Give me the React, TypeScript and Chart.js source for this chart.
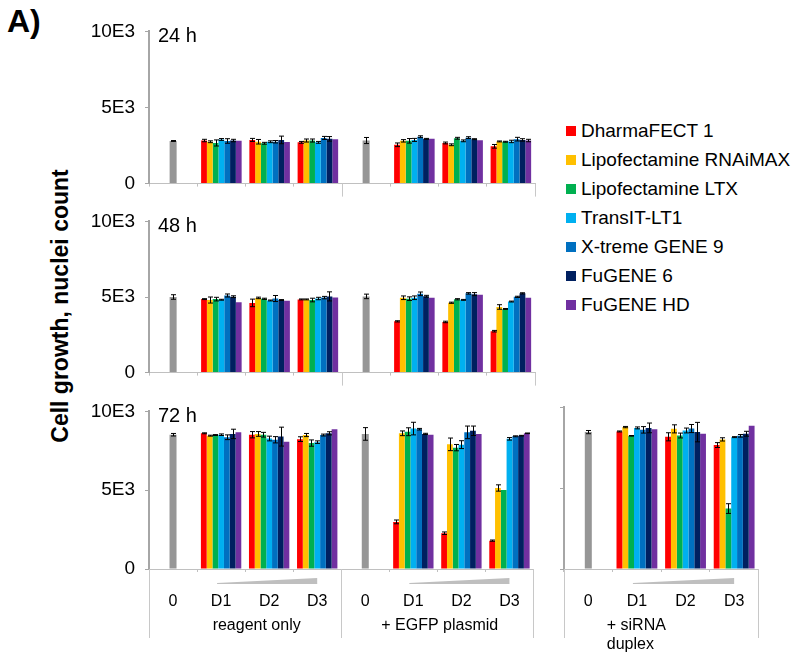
import React, { useEffect, useRef } from "react";
import { Chart, registerables } from "chart.js";

Chart.register(...registerables);

const FONT = "'Liberation Sans', Arial, Helvetica, sans-serif";

const reagents = [
  "DharmaFECT 1",
  "Lipofectamine RNAiMAX",
  "Lipofectamine LTX",
  "TransIT-LT1",
  "X-treme GENE 9",
  "FuGENE 6",
  "FuGENE HD",
];
const reagentColors = ["#FF0000", "#FFC000", "#00B050", "#00B0F0", "#0070C0", "#002060", "#7030A0"];
const controlColor = "#969696";
const doseLabels = ["0", "D1", "D2", "D3"];
const groupNames = ["reagent only", "+ EGFP plasmid"];
const siRnaGroupLines = ["+ siRNA", "duplex"];
const timeLabels = ["24 h", "48 h", "72 h"];
const yTickValues = [0, 5000, 10000];
const yTickLabels = ["0", "5E3", "10E3"];

// values per reagent: [D1, D2, D3]
const h24Reagent = [
  [2830, 2870, 2710], [2750, 2750, 2830], [2670, 2650, 2830], [2900, 2750, 2710],
  [2800, 2750, 3000], [2830, 2870, 2940], [2810, 2730, 2920],
];
const h24ReagentErr = [
  [80, 100, 60], [60, 150, 100], [200, 60, 100], [60, 60, 60],
  [150, 80, 100], [80, 250, 150], [0, 0, 0],
];
const h24Egfp = [
  [2550, 2670, 2450], [2810, 2550, 2770], [2810, 2980, 2750], [2870, 2810, 2770],
  [3080, 3020, 2920], [2940, 2920, 2870], [2940, 2850, 2830],
];
const h24EgfpErr = [
  [120, 60, 120], [80, 60, 30], [150, 60, 30], [100, 60, 80],
  [60, 60, 120], [30, 30, 80], [0, 0, 80],
];
const h24Controls = [2800, 2830];
const h24ControlErr = [30, 200];

const h48Reagent = [
  [4860, 4610, 4840], [4800, 4940, 4840], [4860, 4880, 4800], [4820, 4770, 4900],
  [5100, 4900, 4960], [5020, 4800, 5040], [4650, 4750, 4960],
];
const h48ReagentErr = [
  [30, 250, 30], [200, 50, 30], [120, 40, 120], [30, 30, 80],
  [100, 200, 80], [60, 30, 300], [0, 0, 0],
];
const h48Egfp = [
  [3390, 3350, 2740], [4950, 4620, 4340], [4890, 4850, 4210], [4950, 4810, 4700],
  [5210, 5240, 5010], [5050, 5190, 5240], [4950, 5150, 4950],
];
const h48EgfpErr = [
  [40, 50, 50], [120, 40, 150], [120, 40, 30], [120, 30, 30],
  [120, 50, 40], [60, 100, 40], [0, 0, 0],
];
const h48Controls = [5000, 5040];
const h48ControlErr = [150, 150];

const h72Reagent = [
  [8610, 8520, 8240], [8460, 8570, 8500], [8500, 8520, 7990], [8520, 8280, 8050],
  [8360, 8200, 8500], [8570, 8400, 8610], [8670, 8070, 8870],
];
const h72ReagentErr = [
  [30, 200, 150], [30, 150, 100], [30, 150, 200], [50, 150, 80],
  [150, 200, 60], [300, 600, 100], [0, 0, 0],
];
const h72Egfp = [
  [2990, 2270, 1800], [8610, 7910, 5140], [8710, 7700, 5020], [8910, 7890, 8260],
  [8870, 8670, 8420], [8570, 8770, 8460], [8520, 8570, 8610],
];
const h72EgfpErr = [
  [120, 80, 40], [150, 400, 200], [250, 200, 0], [400, 250, 80],
  [50, 400, 30], [40, 300, 20], [0, 0, 20],
];
const h72Controls = [8520, 8570];
const h72ControlErr = [80, 400];

const h72SiRna = [
  [8490, 8160, 7650], [8760, 8650, 8000], [8220, 8240, 3730], [8710, 8550, 8140],
  [8590, 8670, 8220], [8710, 8450, 8350], [8630, 8350, 8840],
];
const h72SiRnaErr = [
  [30, 250, 150], [40, 250, 100], [20, 150, 300], [60, 150, 30],
  [200, 250, 80], [300, 600, 150], [0, 0, 0],
];
const h72SiRnaControl = 8450;
const h72SiRnaControlErr = 100;

const decorPlugin = {
  id: "decor",
  afterDatasetsDraw(chart: any, _args: any, opts: any) {
    const ctx = chart.ctx;
    const xs = chart.scales.x;
    const ys = chart.scales.y;
    const area = chart.chartArea;
    ctx.save();
    // error bars
    chart.data.datasets.forEach((ds: any, di: number) => {
      const errs = ds.errors;
      if (!errs) return;
      const meta = chart.getDatasetMeta(di);
      meta.data.forEach((el: any, i: number) => {
        const v = ds.data[i];
        const e = errs[i];
        if (v == null || !e) return;
        const x = Math.round(el.x) + 0.5;
        const y1 = ys.getPixelForValue(v + e);
        const y2 = ys.getPixelForValue(v - e);
        ctx.strokeStyle = "#000";
        ctx.lineWidth = 1;
        ctx.beginPath();
        ctx.moveTo(x, y1);
        ctx.lineTo(x, y2);
        ctx.moveTo(x - 2.5, y1);
        ctx.lineTo(x + 2.5, y1);
        ctx.moveTo(x - 2.5, y2);
        ctx.lineTo(x + 2.5, y2);
        ctx.stroke();
      });
    });
    // group separators
    (opts.separators || []).forEach((b: number) => {
      const px = Math.round(xs.getPixelForValue(b)) + 0.5;
      ctx.strokeStyle = "#c8c8c8";
      ctx.lineWidth = 1;
      ctx.beginPath();
      ctx.moveTo(px, area.bottom);
      ctx.lineTo(px, area.bottom + opts.sepLength);
      ctx.stroke();
    });
    // dose wedges
    (opts.wedges || []).forEach((w: number[]) => {
      const x1 = xs.getPixelForValue(w[0]) - 4;
      const x2 = xs.getPixelForValue(w[1]);
      const yb = area.bottom + 15;
      ctx.fillStyle = "#bfbfbf";
      ctx.beginPath();
      ctx.moveTo(x1, yb);
      ctx.lineTo(x2, yb);
      ctx.lineTo(x2, yb - 6);
      ctx.lineTo(x1, yb - 1);
      ctx.closePath();
      ctx.fill();
    });
    // group labels
    ctx.fillStyle = "#000";
    ctx.font = "16px " + FONT;
    ctx.textBaseline = "middle";
    (opts.groupLabels || []).forEach((g: any) => {
      ctx.textAlign = g.align;
      const x = xs.getPixelForValue(g.at);
      g.lines.forEach((line: string, li: number) => {
        ctx.fillText(line, x, area.bottom + 57 + li * 19);
      });
    });
    // panel title
    if (opts.title) {
      ctx.textAlign = "left";
      ctx.font = "20px " + FONT;
      ctx.fillText(opts.title, area.left + 9, area.top + 5);
    }
    ctx.restore();
  },
};

function yScale(showLabels: boolean, width: number) {
  return {
    min: 0,
    max: 10000,
    afterBuildTicks: (s: any) => {
      s.ticks = yTickValues.map((v) => ({ value: v }));
    },
    afterFit: (s: any) => {
      s.width = width;
    },
    ticks: {
      display: showLabels,
      padding: 10,
      color: "#000",
      font: { family: FONT, size: 19 },
      callback: (v: any) => yTickLabels[yTickValues.indexOf(Number(v))] ?? "",
    },
    grid: { drawOnChartArea: false, drawTicks: true, tickLength: 4, color: "#a6a6a6" },
    border: { display: true, color: "#a6a6a6", width: 2 },
  };
}

function xScale(showLabels: boolean, height: number) {
  return {
    type: "category",
    offset: true,
    afterFit: (s: any) => {
      s.height = height;
    },
    ticks: {
      display: showLabels,
      autoSkip: false,
      maxRotation: 0,
      minRotation: 0,
      padding: 20,
      color: "#000",
      font: { family: FONT, size: 16 },
    },
    grid: { drawOnChartArea: false, drawTicks: true, tickLength: 3, color: "#c0c0c0", offset: true },
    border: { display: true, color: "#c0c0c0", width: 1 },
  };
}

function datasetsFor(groups: { vals: number[][]; errs: number[][]; ctrl: number; ctrlErr: number }[]) {
  const ctrlData: (number | null)[] = [];
  const ctrlErrs: number[] = [];
  groups.forEach((g) => {
    ctrlData.push(g.ctrl, null, null, null);
    ctrlErrs.push(g.ctrlErr, 0, 0, 0);
  });
  const ds: any[] = [
    {
      label: "control",
      data: ctrlData,
      errors: ctrlErrs,
      backgroundColor: controlColor,
      grouped: false,
      maxBarThickness: 7,
    },
  ];
  reagents.forEach((name, i) => {
    const data: (number | null)[] = [];
    const errs: number[] = [];
    groups.forEach((g) => {
      data.push(null, ...g.vals[i]);
      errs.push(0, ...g.errs[i]);
    });
    ds.push({
      label: name,
      data,
      errors: errs,
      backgroundColor: reagentColors[i],
      categoryPercentage: 0.84,
      barPercentage: 1,
    });
  });
  return ds;
}

function makeConfig(labels: string[], datasets: any[], showX: boolean, xHeight: number, showY: boolean, yWidth: number, decor: any) {
  return {
    type: "bar",
    data: { labels, datasets },
    options: {
      responsive: false,
      maintainAspectRatio: false,
      animation: false,
      devicePixelRatio: 1,
      layout: { padding: { top: 17, right: 5, left: 0, bottom: 0 } },
      plugins: { legend: { display: false }, tooltip: { enabled: false }, decor },
      scales: { x: xScale(showX, xHeight), y: yScale(showY, yWidth) },
    },
    plugins: [decorPlugin],
  };
}

const twoGroupLabels = [...doseLabels, ...doseLabels];

const panels = [
  {
    left: 70, top: 10, width: 470, height: 195,
    config: () =>
      makeConfig(
        twoGroupLabels,
        datasetsFor([
          { vals: h24Reagent, errs: h24ReagentErr, ctrl: h24Controls[0], ctrlErr: h24ControlErr[0] },
          { vals: h24Egfp, errs: h24EgfpErr, ctrl: h24Controls[1], ctrlErr: h24ControlErr[1] },
        ]),
        false, 15, true, 79,
        { title: timeLabels[0], separators: [3.5, 7.5], sepLength: 13 }
      ),
  },
  {
    left: 70, top: 200, width: 470, height: 194,
    config: () =>
      makeConfig(
        twoGroupLabels,
        datasetsFor([
          { vals: h48Reagent, errs: h48ReagentErr, ctrl: h48Controls[0], ctrlErr: h48ControlErr[0] },
          { vals: h48Egfp, errs: h48EgfpErr, ctrl: h48Controls[1], ctrlErr: h48ControlErr[1] },
        ]),
        false, 15, true, 79,
        { title: timeLabels[1], separators: [3.5, 7.5], sepLength: 13 }
      ),
  },
  {
    left: 70, top: 390, width: 470, height: 271,
    config: () =>
      makeConfig(
        twoGroupLabels,
        datasetsFor([
          { vals: h72Reagent, errs: h72ReagentErr, ctrl: h72Controls[0], ctrlErr: h72ControlErr[0] },
          { vals: h72Egfp, errs: h72EgfpErr, ctrl: h72Controls[1], ctrlErr: h72ControlErr[1] },
        ]),
        true, 92, true, 79,
        {
          title: timeLabels[2],
          separators: [-0.5, 3.5, 7.5],
          sepLength: 69,
          wedges: [[1, 3], [5, 7]],
          groupLabels: [
            { at: 1.74, lines: [groupNames[0]], align: "center" },
            { at: 5.55, lines: [groupNames[1]], align: "center" },
          ],
        }
      ),
  },
  {
    left: 540, top: 390, width: 225, height: 271,
    config: () =>
      makeConfig(
        doseLabels,
        datasetsFor([{ vals: h72SiRna, errs: h72SiRnaErr, ctrl: h72SiRnaControl, ctrlErr: h72SiRnaControlErr }]),
        true, 92, false, 24,
        {
          separators: [-0.5, 3.5],
          sepLength: 69,
          wedges: [[1, 3]],
          groupLabels: [{ at: 0.38, lines: siRnaGroupLines, align: "left" }],
        }
      ),
  },
];

export default function App() {
  const refs = useRef<(HTMLCanvasElement | null)[]>([]);
  useEffect(() => {
    const charts = panels.map((p, i) => new Chart(refs.current[i] as HTMLCanvasElement, p.config() as any));
    return () => {
      charts.forEach((c) => c.destroy());
    };
  }, []);

  return (
    <div style={{ position: "absolute", left: 0, top: 0, width: 800, height: 661, background: "#fff", fontFamily: FONT, overflow: "hidden" }}>
      <div style={{ position: "absolute", left: 7, top: 3, fontSize: 32, fontWeight: "bold", lineHeight: "36px", color: "#000" }}>A)</div>
      <div
        style={{
          position: "absolute",
          left: 60,
          top: 306,
          transform: "translate(-50%, -50%) rotate(-90deg)",
          whiteSpace: "nowrap",
          fontSize: 23,
          fontWeight: "bold",
          color: "#000",
        }}
      >
        Cell growth, nuclei count
      </div>
      {panels.map((p, i) => (
        <canvas
          key={i}
          ref={(el) => {
            refs.current[i] = el;
          }}
          width={p.width}
          height={p.height}
          style={{ position: "absolute", left: p.left, top: p.top, width: p.width, height: p.height }}
        />
      ))}
      <div style={{ position: "absolute", left: 566, top: 116 }}>
        {reagents.map((name, i) => (
          <div key={name} style={{ height: 29, display: "flex", alignItems: "center", whiteSpace: "nowrap" }}>
            <span style={{ display: "inline-block", width: 10, height: 10, background: reagentColors[i], marginRight: 5 }} />
            <span style={{ fontSize: 19, color: "#000" }}>{name}</span>
          </div>
        ))}
      </div>
    </div>
  );
}
